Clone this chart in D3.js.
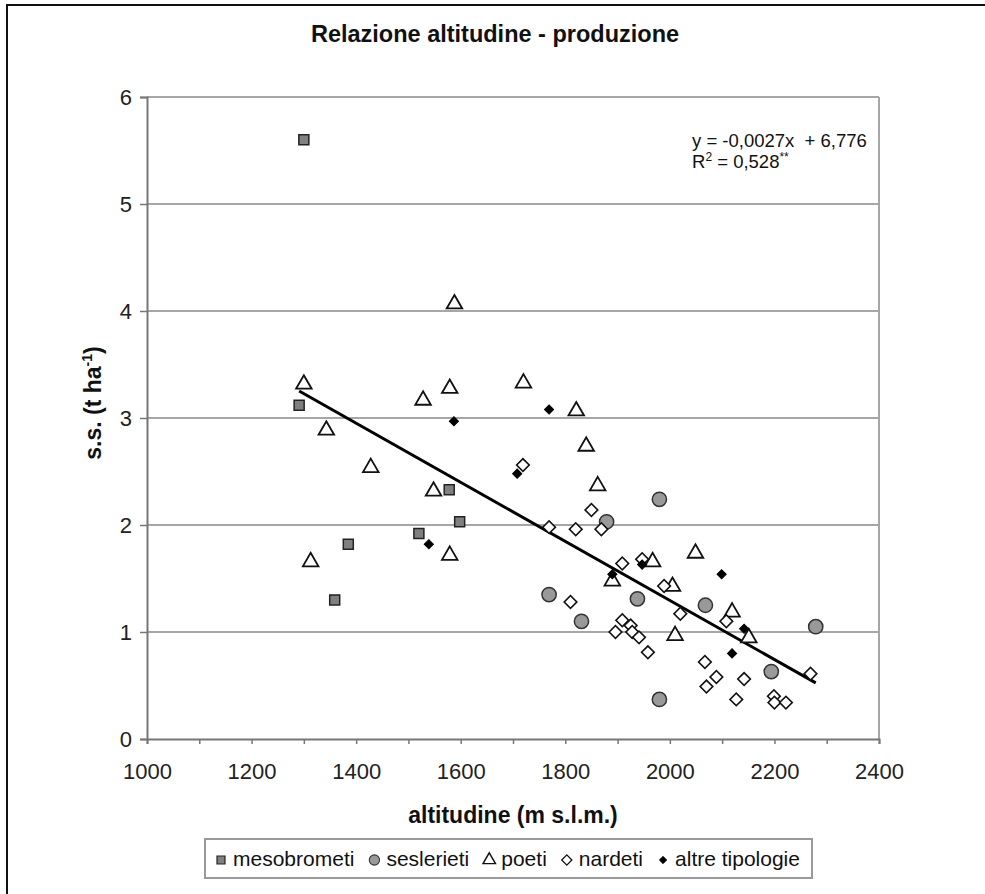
<!DOCTYPE html>
<html>
<head>
<meta charset="utf-8">
<script src="https://cdn.jsdelivr.net/npm/d3@7"></script>
<style>
  html, body { margin: 0; padding: 0; background: #fff; }
  svg { display: block; font-family: "Liberation Sans", Arial, sans-serif; }
</style>
</head>
<body>
<svg id="chart" width="985" height="894"></svg>
<script>
// ---- Data ----
const mesobrometi = [[1300,5.60],[1291,3.12],[1578,2.33],[1598,2.03],[1520,1.92],[1385,1.82],[1359,1.30]];
const seslerieti = [[1980,2.24],[1879,2.03],[1769,1.35],[1938,1.31],[2068,1.25],[1831,1.10],[2279,1.05],[2194,0.63],[1980,0.37]];
const poeti = [[1300,3.33],[1343,2.90],[1428,2.55],[1528,3.18],[1579,3.29],[1588,4.08],[1720,3.34],[1821,3.08],[1548,2.33],[1579,1.73],[1313,1.67],[1840,2.75],[1862,2.38],[2049,1.75],[1967,1.67],[1890,1.49],[2005,1.44],[2119,1.20],[2151,0.96],[2010,0.98]];
const nardeti = [[1719,2.56],[1850,2.14],[1769,1.98],[1820,1.96],[1869,1.96],[1909,1.64],[1947,1.68],[1989,1.43],[1810,1.28],[2020,1.17],[2108,1.10],[1909,1.11],[1925,1.06],[1928,1.00],[1941,0.95],[1896,1.00],[1958,0.81],[2067,0.72],[2269,0.61],[2089,0.58],[2142,0.56],[2070,0.49],[2127,0.37],[2199,0.40],[2200,0.34],[2222,0.34]];
const altreTipologie = [[1769,3.08],[1587,2.97],[1708,2.48],[1539,1.82],[1947,1.63],[2099,1.54],[1890,1.54],[2142,1.03],[2119,0.80]];

const seriesNames = ["mesobrometi","seslerieti","poeti","nardeti","altre tipologie"];
const trendSlope = -0.00276, trendIntercept = 6.815, trendRange = [1291, 2279];
const equationText = "y = -0,0027x  + 6,776";
const r2Text = " = 0,528";
const xTicks = [1000,1200,1400,1600,1800,2000,2200,2400];
const xMinorTicks = [1000,1100,1200,1300,1400,1500,1600,1700,1800,1900,2000,2100,2200,2300,2400];
const yTicks = [0,1,2,3,4,5,6];

// ---- Layout ----
const svg = d3.select("#chart");
const plot = {left: 147, top: 97, right: 879, bottom: 739};
const x = d3.scaleLinear().domain([1000, 2400]).range([plot.left, plot.right]);
const y = d3.scaleLinear().domain([0, 6]).range([plot.bottom, plot.top]);

// outer frame (top + left visible)
svg.append("rect").attr("x", 7).attr("y", 5).attr("width", 1100).attr("height", 1100)
  .attr("fill", "none").attr("stroke", "#111").attr("stroke-width", 2);

// title
svg.append("text").attr("x", 495).attr("y", 42).attr("text-anchor", "middle")
  .attr("font-size", 23.5).attr("font-weight", "bold").attr("fill", "#111")
  .text("Relazione altitudine - produzione");

// gridlines
svg.append("g").selectAll("line").data(yTicks.filter(d => d > 0)).join("line")
  .attr("x1", plot.left).attr("x2", plot.right)
  .attr("y1", d => y(d)).attr("y2", d => y(d))
  .attr("stroke", "#a6a6a6").attr("stroke-width", 2);
svg.append("line").attr("x1", plot.right).attr("x2", plot.right).attr("y1", plot.top).attr("y2", plot.bottom)
  .attr("stroke", "#a6a6a6").attr("stroke-width", 2);

// y axis
const yAxis = svg.append("g").attr("transform", `translate(${plot.left},0)`)
  .call(d3.axisLeft(y).tickValues(yTicks).tickSize(7).tickPadding(8).tickFormat(d3.format("d")));
yAxis.select(".domain").attr("stroke", "#777").attr("stroke-width", 2);
yAxis.selectAll(".tick line").attr("stroke", "#777").attr("stroke-width", 1.5);
yAxis.selectAll(".tick text").attr("font-size", 22).attr("fill", "#222")
  .attr("font-family", "Liberation Sans, Arial, sans-serif");

// x axis (minor ticks every 100, labels every 200)
const xAxisMinor = svg.append("g").attr("transform", `translate(0,${plot.bottom})`)
  .call(d3.axisBottom(x).tickValues(xMinorTicks).tickSize(5).tickFormat(""));
xAxisMinor.select(".domain").attr("stroke", "#777").attr("stroke-width", 2);
xAxisMinor.selectAll(".tick line").attr("stroke", "#777").attr("stroke-width", 1.5);
const xAxis = svg.append("g").attr("transform", `translate(0,${plot.bottom})`)
  .call(d3.axisBottom(x).tickValues(xTicks).tickSize(0).tickPadding(24).tickFormat(d3.format("d")));
xAxis.select(".domain").remove();
xAxis.selectAll(".tick text").attr("font-size", 22).attr("fill", "#222")
  .attr("font-family", "Liberation Sans, Arial, sans-serif");

// axis titles
svg.append("text").attr("x", (plot.left + plot.right) / 2).attr("y", 823).attr("text-anchor", "middle")
  .attr("font-size", 23).attr("font-weight", "bold").attr("fill", "#111").text("altitudine (m s.l.m.)");
const yt = svg.append("text").attr("transform", "translate(101,403) rotate(-90)").attr("text-anchor", "middle")
  .attr("font-size", 23).attr("font-weight", "bold").attr("fill", "#111");
yt.append("tspan").text("s.s. (t ha");
yt.append("tspan").attr("font-size", 14).attr("dy", -9).text("-1");
yt.append("tspan").attr("dy", 9).text(")");

// marker shapes
const squarePath = d3.symbol().type(d3.symbolSquare).size(100)();
const circlePath = d3.symbol().type(d3.symbolCircle).size(160)();
const triPath = d3.symbol().type(d3.symbolTriangle).size(105)();
const diamondPath = d3.symbol().type(d3.symbolSquare).size(80)();
const smallDiamondPath = d3.symbol().type(d3.symbolSquare).size(42)();

const styles = {
  "mesobrometi": {path: squarePath, rot: 0, fill: "#808080", stroke: "#222", sw: 1.5, dy: 0},
  "seslerieti": {path: circlePath, rot: 0, fill: "#999", stroke: "#333", sw: 1.5, dy: 0},
  "poeti": {path: triPath, rot: 0, fill: "#fff", stroke: "#111", sw: 1.8, dy: 1.5},
  "nardeti": {path: diamondPath, rot: 45, fill: "#fff", stroke: "#111", sw: 1.6, dy: 0},
  "altre tipologie": {path: smallDiamondPath, rot: 45, fill: "#000", stroke: "#000", sw: 1, dy: 0}
};
const seriesData = [mesobrometi, seslerieti, poeti, nardeti, altreTipologie];

// trendline
svg.append("line")
  .attr("x1", x(trendRange[0])).attr("y1", y(trendIntercept + trendSlope * trendRange[0]))
  .attr("x2", x(trendRange[1])).attr("y2", y(trendIntercept + trendSlope * trendRange[1]))
  .attr("stroke", "#000").attr("stroke-width", 3);

// points
seriesNames.forEach((name, i) => {
  const st = styles[name];
  svg.append("g").selectAll("path").data(seriesData[i]).join("path")
    .attr("d", st.path)
    .attr("transform", d => `translate(${x(d[0])},${y(d[1]) + st.dy}) rotate(${st.rot})`)
    .attr("fill", st.fill).attr("stroke", st.stroke).attr("stroke-width", st.sw);
});

// equation
const eq = svg.append("g").attr("font-size", 18.5).attr("fill", "#111");
eq.append("text").attr("x", 692).attr("y", 147).attr("xml:space", "preserve").text(equationText);
const r2 = eq.append("text").attr("x", 692).attr("y", 168);
r2.append("tspan").text("R");
r2.append("tspan").attr("font-size", 12).attr("dy", -7).text("2");
r2.append("tspan").attr("dy", 7).text(r2Text);
r2.append("tspan").attr("font-size", 12).attr("dy", -7).text("**");

// legend
const legend = svg.append("g");
legend.append("rect").attr("x", 205).attr("y", 839).attr("width", 607).attr("height", 39)
  .attr("fill", "#fff").attr("stroke", "#999").attr("stroke-width", 2);
let cursor = 221;
seriesNames.forEach((name, i) => {
  const st = styles[name];
  const scale = name === "seslerieti" ? 0.72 : 0.8;
  legend.append("path").attr("d", st.path)
    .attr("transform", `translate(${cursor},${860}) rotate(${st.rot}) scale(${scale})`)
    .attr("fill", st.fill).attr("stroke", st.stroke).attr("stroke-width", st.sw);
  const t = legend.append("text").attr("x", cursor + 12).attr("y", 866)
    .attr("font-size", 21).attr("fill", "#111").text(name);
  cursor = cursor + 12 + t.node().getComputedTextLength() + 20;
});
</script>
</body>
</html>
